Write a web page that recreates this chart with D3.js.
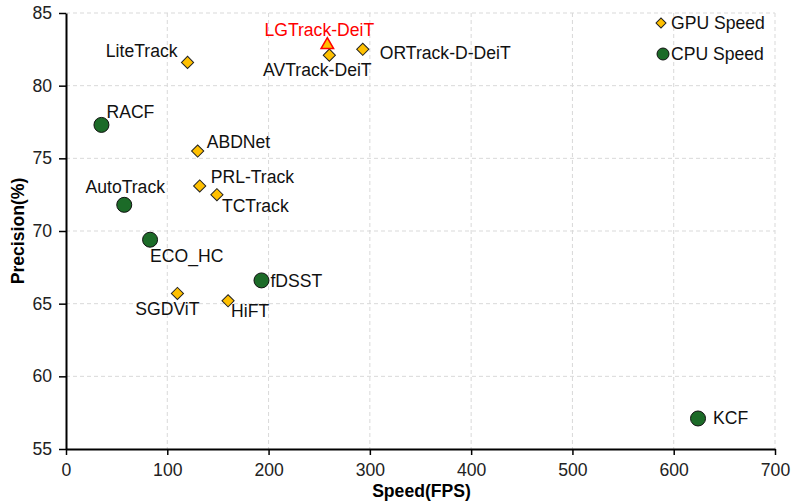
<!DOCTYPE html>
<html>
<head>
<meta charset="utf-8">
<script src="https://cdn.jsdelivr.net/npm/d3@7"></script>
<style>
  body { margin: 0; background: #fff; }
  text { font-family: Arial, "Liberation Sans", sans-serif; }
</style>
</head>
<body>
<div id="chartRegion"></div>
<script>
/* tracker data */
var gpuNames = ["LiteTrack", "ABDNet", "PRL-Track", "TCTrack", "SGDViT", "HiFT", "AVTrack-DeiT", "ORTrack-D-DeiT"];
var gpuSpeed = [120, 130, 132, 149, 110, 160, 260, 293];
var gpuPrec  = [81.6, 75.5, 73.1, 72.5, 65.7, 65.2, 82.1, 82.5];

var cpuNames = ["RACF", "AutoTrack", "ECO_HC", "fDSST", "KCF"];
var cpuSpeed = [35, 57.5, 83, 193, 624];
var cpuPrec  = [77.3, 71.8, 69.4, 66.6, 57.1];

var oursNames = ["LGTrack-DeiT"];
var oursSpeed = [258];
var oursPrec  = [82.8];

var xTicks = [0, 100, 200, 300, 400, 500, 600, 700];
var yTicks = [55, 60, 65, 70, 75, 80, 85];
var legendLabels = ["GPU Speed", "CPU Speed"];

/* where each label sits next to its marker (pixels) */
var labelPos = {
  "LiteTrack": [-10, -5, "end"],
  "ABDNet": [9, -3, "start"],
  "PRL-Track": [11, -3, "start"],
  "TCTrack": [5, 17, "start"],
  "SGDViT": [-10, 22, "middle"],
  "HiFT": [3, 16, "start"],
  "AVTrack-DeiT": [-12, 21, "middle"],
  "ORTrack-D-DeiT": [17, 10, "start"],
  "RACF": [5, -7, "start"],
  "AutoTrack": [1, -12, "middle"],
  "ECO_HC": [0, 22, "start"],
  "fDSST": [9, 7, "start"],
  "KCF": [15, 6, "start"],
  "LGTrack-DeiT": [-8, -9, "middle"]
};

var W = 791, H = 504;
var pLeft = 66, pRight = 775, pTop = 13, pBottom = 449;
var gold = "#FFC000", green = "#1C6B28";
var fs = 17.6;

var svg = d3.select("#chartRegion").append("svg").attr("width", W).attr("height", H);

var x = d3.scaleLinear().domain([0, 700]).range([pLeft, pRight]);
var y = d3.scaleLinear().domain([55, 85]).range([pBottom, pTop]);

/* dashed grid */
svg.append("g").selectAll("line").data(xTicks.slice(1)).join("line")
  .attr("x1", d => x(d)).attr("x2", d => x(d)).attr("y1", pTop).attr("y2", pBottom)
  .attr("stroke", "#d9d9d9").attr("stroke-dasharray", "4,3");
svg.append("g").selectAll("line").data(yTicks.slice(1)).join("line")
  .attr("x1", pLeft).attr("x2", pRight).attr("y1", d => y(d)).attr("y2", d => y(d))
  .attr("stroke", "#d9d9d9").attr("stroke-dasharray", "4,3");

/* axes */
var xAxis = svg.append("g").attr("transform", "translate(0," + pBottom + ")")
  .call(d3.axisBottom(x).tickValues(xTicks).tickSize(6).tickPadding(9).tickSizeOuter(0));
var yAxis = svg.append("g").attr("transform", "translate(" + pLeft + ",0)")
  .call(d3.axisLeft(y).tickValues(yTicks).tickSize(7).tickPadding(7).tickSizeOuter(0));
[xAxis, yAxis].forEach(function(a) {
  a.select(".domain").attr("stroke", "#000").attr("stroke-width", 2);
  a.selectAll(".tick line").attr("stroke", "#000").attr("stroke-width", 1.5);
  a.selectAll(".tick text").attr("font-size", fs).attr("fill", "#222")
    .attr("font-family", "Arial, 'Liberation Sans', sans-serif");
});

svg.append("text").attr("x", (pLeft + pRight) / 2 + 1).attr("y", 497)
  .attr("text-anchor", "middle").attr("font-size", fs).attr("font-weight", "bold")
  .text("Speed(FPS)");
svg.append("text").attr("transform", "translate(24," + (pTop + pBottom) / 2 + ") rotate(-90)")
  .attr("text-anchor", "middle").attr("font-size", fs).attr("font-weight", "bold")
  .text("Precision(%)");

var diamond = d3.symbol(d3.symbolSquare, 74);
var diamondSmall = d3.symbol(d3.symbolSquare, 50);

function pack(names, xs, ys) {
  return names.map(function(n, i) { return {name: n, sx: xs[i], p: ys[i]}; });
}
var gpu = pack(gpuNames, gpuSpeed, gpuPrec);
var cpu = pack(cpuNames, cpuSpeed, cpuPrec);
var ours = pack(oursNames, oursSpeed, oursPrec);

svg.append("g").selectAll("path").data(gpu).join("path")
  .attr("d", diamond)
  .attr("transform", d => "translate(" + x(d.sx) + "," + y(d.p) + ") rotate(45)")
  .attr("fill", gold).attr("stroke", "#222").attr("stroke-width", 1);

svg.append("g").selectAll("circle").data(cpu).join("circle")
  .attr("cx", d => x(d.sx)).attr("cy", d => y(d.p)).attr("r", 7.5)
  .attr("fill", green).attr("stroke", "#111").attr("stroke-width", 1);

svg.append("g").selectAll("path").data(ours).join("path")
  .attr("d", d3.symbol(d3.symbolTriangle, 68))
  .attr("transform", d => "translate(" + x(d.sx) + "," + y(d.p) + ")")
  .attr("fill", gold).attr("stroke", "#FF0000").attr("stroke-width", 1.5);

/* point labels */
var all = gpu.concat(cpu).concat(ours);
svg.append("g").selectAll("text").data(all).join("text")
  .attr("x", d => x(d.sx) + labelPos[d.name][0])
  .attr("y", d => y(d.p) + labelPos[d.name][1])
  .attr("text-anchor", d => labelPos[d.name][2])
  .attr("font-size", fs)
  .attr("fill", d => oursNames.indexOf(d.name) >= 0 ? "#FF0000" : "#111")
  .text(d => d.name);

/* legend */
var lg = svg.append("g");
lg.append("path").attr("d", diamondSmall)
  .attr("transform", "translate(661,23) rotate(45)")
  .attr("fill", gold).attr("stroke", "#222");
lg.append("circle").attr("cx", 663).attr("cy", 54).attr("r", 6)
  .attr("fill", green).attr("stroke", "#111");
lg.selectAll("text").data(legendLabels).join("text")
  .attr("x", 671).attr("y", (d, i) => 29 + i * 31)
  .attr("font-size", fs).attr("fill", "#111")
  .text(d => d);
</script>
</body>
</html>
